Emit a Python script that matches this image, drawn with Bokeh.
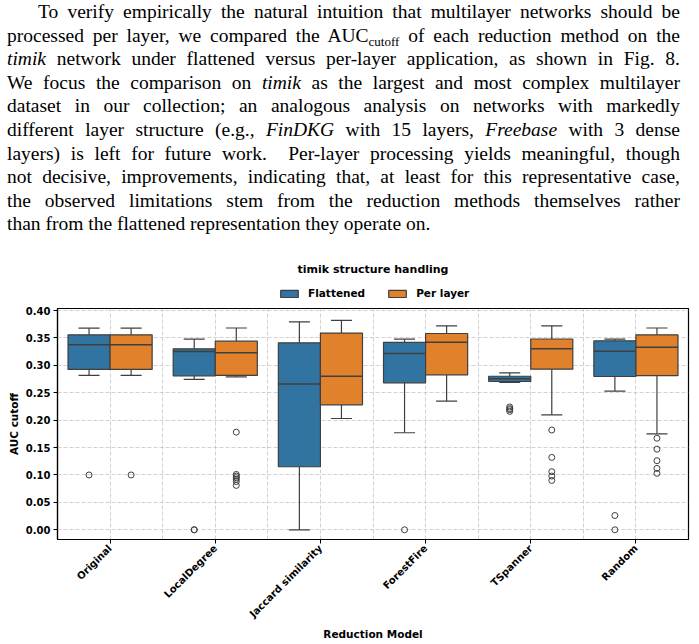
import numpy as np
from bokeh.plotting import figure
from bokeh.models import (Range1d, FixedTicker, Legend, LegendItem, Div, ColumnDataSource)
from bokeh.layouts import column
from bokeh.embed import file_html
from bokeh.resources import INLINE

# ---------------- data ----------------
categories = ["Original", "LocalDegree", "Jaccard similarity", "ForestFire", "TSpanner", "Random"]
series = ["Flattened", "Per layer"]

flat_lo  = [0.2815, 0.2742, 0.000, 0.177, 0.2687, 0.2529]
flat_q1  = [0.2924, 0.2809, 0.115, 0.268, 0.2705, 0.2796]
flat_med = [0.3374, 0.3250, 0.266, 0.3216, 0.2754, 0.3258]
flat_q3  = [0.3556, 0.3300, 0.341, 0.342, 0.2800, 0.3447]
flat_hi  = [0.3678, 0.3477, 0.3793, 0.3477, 0.2863, 0.3477]

per_lo  = [0.2815, 0.279, 0.203, 0.2347, 0.2097, 0.175]
per_q1  = [0.2924, 0.2815, 0.228, 0.2827, 0.293, 0.281]
per_med = [0.3374, 0.3228, 0.280, 0.342, 0.330, 0.333]
per_q3  = [0.3556, 0.344, 0.3587, 0.358, 0.348, 0.3556]
per_hi  = [0.3678, 0.368, 0.382, 0.372, 0.372, 0.368]

flat_out_cat = ["Original", "LocalDegree", "LocalDegree", "ForestFire", "TSpanner", "TSpanner",
                "TSpanner", "TSpanner", "Random", "Random"]
flat_out_val = [0.100, 0.000, 0.000, 0.000, 0.224, 0.221, 0.219, 0.216, 0.026, 0.000]

per_out_cat = ["Original", "LocalDegree", "LocalDegree", "LocalDegree", "LocalDegree", "LocalDegree",
               "LocalDegree", "LocalDegree", "TSpanner", "TSpanner", "TSpanner", "TSpanner", "TSpanner",
               "Random", "Random", "Random", "Random", "Random"]
per_out_val = [0.100, 0.178, 0.101, 0.098, 0.095, 0.092, 0.088, 0.081, 0.182, 0.132, 0.106, 0.098,
               0.090, 0.167, 0.147, 0.126, 0.112, 0.103]

y_ticks = [0.00, 0.05, 0.10, 0.15, 0.20, 0.25, 0.30, 0.35, 0.40]

paragraph_lines = [
    "To verify empirically the natural intuition that multilayer networks should be",
    "processed per layer, we compared the AUC<sub style=\"font-size:13px;vertical-align:-4px;line-height:0\">cutoff</sub> of each reduction method on the",
    "<i>timik</i> network under flattened versus per-layer application, as shown in Fig. 8.",
    "We focus the comparison on <i>timik</i> as the largest and most complex multilayer",
    "dataset in our collection; an analogous analysis on networks with markedly",
    "different layer structure (e.g., <i>FinDKG</i> with 15 layers, <i>Freebase</i> with 3 dense",
    "layers) is left for future work.&nbsp; Per-layer processing yields meaningful, though",
    "not decisive, improvements, indicating that, at least for this representative case,",
    "the observed limitations stem from the reduction methods themselves rather",
    "than from the flattened representation they operate on.",
]

# ---------------- styles ----------------
BLUE = "#3274a1"
ORANGE = "#e1812c"
EDGE = "#3f3f3f"
FONT = "DejaVu Sans"
colors = {"Flattened": BLUE, "Per layer": ORANGE}

# ---------------- paragraph ----------------
rows = []
for i, ln in enumerate(paragraph_lines):
    last = i == len(paragraph_lines) - 1
    indent = "text-indent:31px;" if i == 0 else ""
    align = "text-align:left;" if last else "text-align:justify;text-align-last:justify;"
    rows.append(f'<div style="height:23.6px;line-height:23.6px;{align}{indent}">{ln}</div>')
html = ('<div style="font-family:\'Liberation Serif\',serif;font-size:19.5px;color:#000;'
        'width:686px;padding:0px 6px 0 7px;margin:0;">' + "".join(rows) + "</div>")
div = Div(text=html, width=699, height=262, margin=(0, 0, 0, 0))

# ---------------- header (title + legend) ----------------
h = figure(frame_width=631, height=44, output_backend="svg", toolbar_location=None,
           x_axis_type=None, y_axis_type=None, x_range=Range1d(0, 1), y_range=Range1d(0, 1),
           min_border_left=57, min_border_right=11, min_border_top=0, min_border_bottom=0,
           margin=(0, 0, 0, 0))
h.outline_line_color = None
h.grid.visible = False
h.title.text = "timik structure handling"
h.title.align = "center"
h.title.text_font = FONT
h.title.text_font_style = "bold"
h.title.text_font_size = "11px"
h.title.text_color = "black"
h.title.standoff = -4
h.title.offset = 0
# legend key renderers (placed far outside the visible header range; only their style is used)
dummy = {s: h.vbar(x=[0.5], top=[-20], bottom=[-21], width=0.1, fill_color=colors[s],
                   line_color=EDGE, line_width=1.2) for s in series}
legend = Legend(items=[LegendItem(label=s, renderers=[dummy[s]]) for s in series],
                orientation="horizontal", location=(221, 7),
                glyph_width=22, glyph_height=9, label_height=11, label_standoff=8, spacing=21,
                padding=0, margin=0, border_line_color=None, background_fill_alpha=0,
                label_text_font=FONT, label_text_font_style="bold", label_text_font_size="10.5px",
                label_text_color="black")
h.add_layout(legend, "center")

# ---------------- main figure ----------------
p = figure(frame_width=631, frame_height=231, output_backend="svg", toolbar_location=None,
           x_range=Range1d(-0.5, 5.5), y_range=Range1d(-0.0177, 0.4036),
           min_border_left=57, min_border_right=11, min_border_top=2, min_border_bottom=95,
           margin=(0, 0, 0, 0))
p.background_fill_color = "white"
p.border_fill_color = "white"
p.outline_line_color = "black"
p.outline_line_width = 1.2

idx = np.arange(len(categories))

for name, lo, q1, med, q3, hi, off in [
    ("Flattened", flat_lo, flat_q1, flat_med, flat_q3, flat_hi, -0.2),
    ("Per layer", per_lo, per_q1, per_med, per_q3, per_hi, 0.2),
]:
    xs = idx + off
    src = ColumnDataSource(dict(x=xs, lo=lo, q1=q1, med=med, q3=q3, hi=hi,
                                xl=xs - 0.2, xr=xs + 0.2, cl=xs - 0.1, cr=xs + 0.1))
    p.segment(x0="x", x1="x", y0="q3", y1="hi", source=src, line_color=EDGE, line_width=1.2)
    p.segment(x0="x", x1="x", y0="lo", y1="q1", source=src, line_color=EDGE, line_width=1.2)
    p.segment(x0="cl", x1="cr", y0="hi", y1="hi", source=src, line_color=EDGE, line_width=1.2)
    p.segment(x0="cl", x1="cr", y0="lo", y1="lo", source=src, line_color=EDGE, line_width=1.2)
    p.vbar(x="x", width=0.4, top="q3", bottom="q1", source=src, fill_color=colors[name],
           line_color=EDGE, line_width=1.2)
    p.segment(x0="xl", x1="xr", y0="med", y1="med", source=src, line_color=EDGE, line_width=1.5)

for cats, vals, off in [(flat_out_cat, flat_out_val, -0.2), (per_out_cat, per_out_val, 0.2)]:
    ox = [categories.index(c) + off for c in cats]
    p.scatter(x=ox, y=vals, marker="circle", size=6, fill_color=None,
              line_color=EDGE, line_width=1)

# axes
p.xaxis.ticker = FixedTicker(ticks=list(idx), minor_ticks=list(idx[:-1] + 0.5))
p.xaxis.major_label_overrides = {int(i): c for i, c in zip(idx, categories)}
p.xaxis.major_label_orientation = np.pi / 4
p.yaxis.ticker = FixedTicker(ticks=y_ticks)
p.yaxis.major_label_overrides = {t: f"{t:.2f}" for t in y_ticks}
p.xaxis.axis_label = "Reduction Model"
p.yaxis.axis_label = "AUC cutoff"
for ax in (p.xaxis, p.yaxis):
    ax.major_label_text_font = FONT
    ax.major_label_text_font_style = "bold"
    ax.major_label_text_font_size = "10px"
    ax.major_label_text_color = "black"
    ax.axis_label_text_font = FONT
    ax.axis_label_text_font_style = "bold"
    ax.axis_label_text_font_size = "10.5px"
    ax.axis_label_text_color = "black"
    ax.axis_line_color = "black"
    ax.axis_line_width = 1.2
    ax.major_tick_line_color = "black"
    ax.major_tick_out = 4
    ax.major_tick_in = 0
    ax.minor_tick_line_color = None
    ax.major_label_standoff = 3
p.xaxis.axis_label_standoff = 2
p.yaxis.axis_label_standoff = 3

# grid
for g in (p.xgrid, p.ygrid):
    g.grid_line_color = "#b8b8b8"
    g.grid_line_dash = "4 2"
    g.grid_line_width = 0.8
    g.grid_line_alpha = 0.8
p.xgrid.minor_grid_line_color = "#b8b8b8"
p.xgrid.minor_grid_line_dash = "4 2"
p.xgrid.minor_grid_line_width = 0.8
p.xgrid.minor_grid_line_alpha = 0.8

layout = column(div, h, p, spacing=0, margin=(0, 0, 0, 0))
open("out.html", "w").write(file_html(layout, INLINE))
